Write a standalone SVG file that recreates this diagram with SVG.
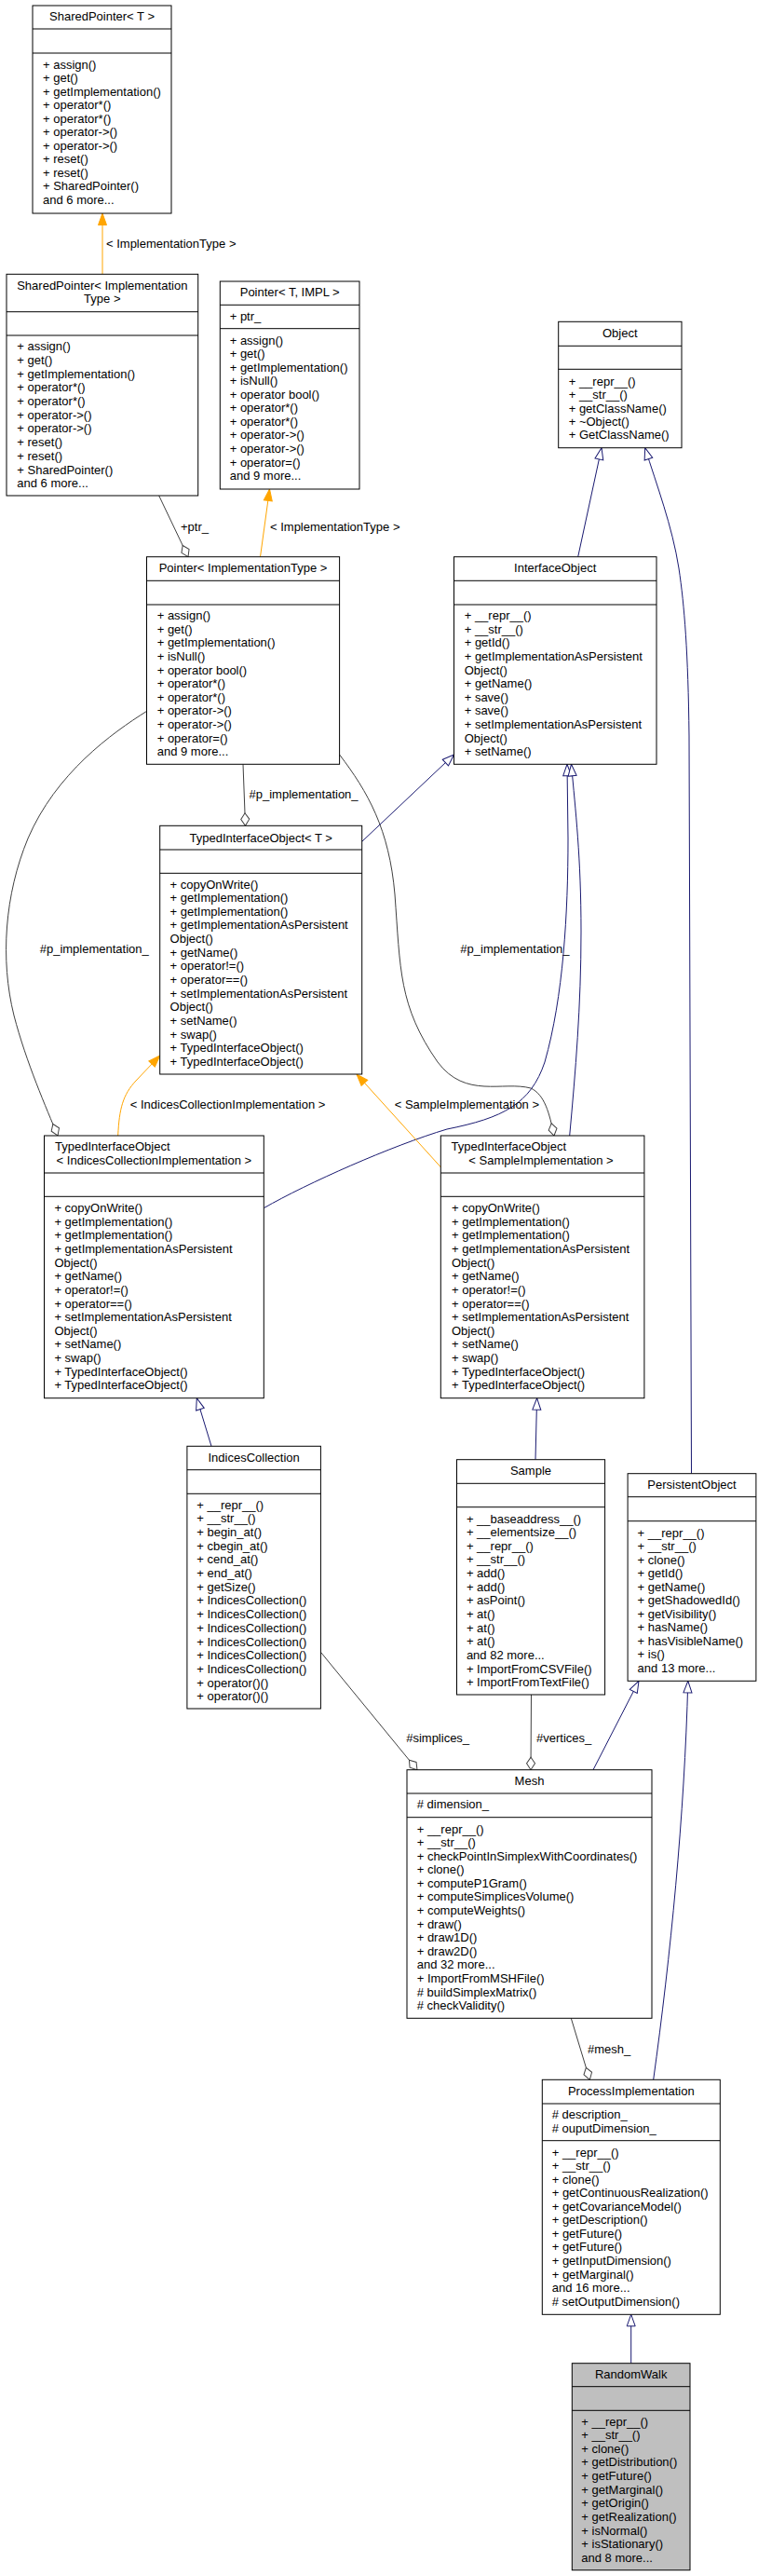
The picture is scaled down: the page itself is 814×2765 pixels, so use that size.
<svg xmlns="http://www.w3.org/2000/svg" width="814" height="2765" viewBox="0 0 814 2765">
<style>
.bg{fill:#fff}
.box{fill:#fff;stroke:#000;stroke-width:1}
.rw{fill:#bfbfbf}
.sep{stroke:#000;stroke-width:1}
text{font-family:"Liberation Sans",Arial,Helvetica,sans-serif;font-size:13px;fill:#000}
.c{text-anchor:middle}
.inh{stroke:#191970;fill:none;stroke-width:1}
.tpl{stroke:#ffa500;fill:none;stroke-width:1}
.agg{stroke:#404040;fill:none;stroke-width:1}
</style>
<defs>
<marker id="mInh" markerWidth="16" markerHeight="12" refX="13" refY="5" orient="auto" markerUnits="userSpaceOnUse" overflow="visible"><path d="M0.5,0.5 L13,5 L0.5,9.5 z" fill="#fff" stroke="#191970"/></marker>
<marker id="mTpl" markerWidth="16" markerHeight="12" refX="13" refY="5" orient="auto" markerUnits="userSpaceOnUse" overflow="visible"><path d="M0.5,0.5 L13,5 L0.5,9.5 z" fill="#ffa500" stroke="#ffa500"/></marker>
<marker id="mAgg" markerWidth="16" markerHeight="12" refX="14" refY="5" orient="auto" markerUnits="userSpaceOnUse" overflow="visible"><path d="M0.5,5 L7,0.5 L14,5 L7,9.5 z" fill="#fff" stroke="#404040"/></marker>
</defs>
<rect class="bg" x="0" y="0" width="814" height="2765"/>

<g id="connectors">
<path class="tpl" d="M110,294.3 L110,229" marker-end="url(#mTpl)"/>
<text x="114" y="265.5">&lt; ImplementationType &gt;</text>
<path class="tpl" d="M279.5,597.7 L289.5,525" marker-end="url(#mTpl)"/>
<text x="290" y="569.5">&lt; ImplementationType &gt;</text>
<path class="agg" d="M170.7,532 L202,597.7" marker-end="url(#mAgg)"/>
<text x="194" y="569.5">+ptr_</text>
<path class="agg" d="M261,820.3 L263.5,886.3" marker-end="url(#mAgg)"/>
<text x="267.5" y="857">#p_implementation_</text>
<path class="agg" d="M157.7,763.3 C120,787 60,830 30,900 C5,960 0,1030 15,1090 C28,1140 50,1190 62,1219" marker-end="url(#mAgg)"/>
<text x="42.7" y="1022.8">#p_implementation_</text>
<path class="agg" d="M364.6,810 C395,850 418,890 424,960 C430,1040 428,1080 470,1140 C500,1180 540,1160 570,1168 C585,1175 590,1195 595,1219" marker-end="url(#mAgg)"/>
<text x="494.3" y="1022.8">#p_implementation_</text>
<path class="inh" d="M388.7,903.3 L487.5,810" marker-end="url(#mInh)"/>
<path class="inh" d="M283.3,1296.7 C330,1270 420,1230 480,1212 C540,1200 570,1185 585,1140 C605,1070 610,980 610,900 L609,820.3" marker-end="url(#mInh)"/>
<path class="inh" d="M611.7,1219 C618,1150 624,1080 624,1000 C624,920 618,870 613.5,820.3" marker-end="url(#mInh)"/>
<path class="inh" d="M620.7,597.7 L646,480.7" marker-end="url(#mInh)"/>
<path class="inh" d="M742.5,1581.7 L740,790 C739,700 735,650 729,610 C722,565 705,520 692.7,480.7" marker-end="url(#mInh)"/>
<path class="tpl" d="M126.7,1219 C128,1190 132,1175 146,1160 L171.7,1133" marker-end="url(#mTpl)"/>
<text x="139.8" y="1190">&lt; IndicesCollectionImplementation &gt;</text>
<path class="tpl" d="M473.8,1253.3 L383,1153" marker-end="url(#mTpl)"/>
<text x="423.7" y="1190">&lt; SampleImplementation &gt;</text>
<path class="inh" d="M227,1552.3 L211.3,1500.7" marker-end="url(#mInh)"/>
<path class="inh" d="M575,1566.7 L576.6,1500.7" marker-end="url(#mInh)"/>
<path class="agg" d="M344.4,1773.3 L448,1899.7" marker-end="url(#mAgg)"/>
<text x="436.2" y="1870">#simplices_</text>
<path class="agg" d="M570.5,1819 L570,1899.7" marker-end="url(#mAgg)"/>
<text x="576" y="1870">#vertices_</text>
<path class="inh" d="M637,1899.7 L686,1804.3" marker-end="url(#mInh)"/>
<path class="inh" d="M701.7,2232.3 C720,2100 735,1950 738.8,1804.3" marker-end="url(#mInh)"/>
<path class="agg" d="M613.3,2166.3 L633.3,2232.3" marker-end="url(#mAgg)"/>
<text x="631" y="2203.5">#mesh_</text>
<path class="inh" d="M677.7,2536.7 L677.7,2484.3" marker-end="url(#mInh)"/>
</g>

<g id="n_sp_t">
<rect class="box" x="35" y="6" width="149" height="223"/>
<line class="sep" x1="35" y1="31" x2="184" y2="31"/>
<line class="sep" x1="35" y1="57" x2="184" y2="57"/>
<text class="c" x="109.5" y="22">SharedPointer&lt; T &gt;</text>
<text x="46" y="73.5"><tspan x="46" dy="0">+ assign()</tspan><tspan x="46" dy="14.53">+ get()</tspan><tspan x="46" dy="14.53">+ getImplementation()</tspan><tspan x="46" dy="14.53">+ operator*()</tspan><tspan x="46" dy="14.53">+ operator*()</tspan><tspan x="46" dy="14.53">+ operator-&gt;()</tspan><tspan x="46" dy="14.53">+ operator-&gt;()</tspan><tspan x="46" dy="14.53">+ reset()</tspan><tspan x="46" dy="14.53">+ reset()</tspan><tspan x="46" dy="14.53">+ SharedPointer()</tspan><tspan x="46" dy="14.53">and 6 more...</tspan></text>
</g>

<g id="n_sp_it">
<rect class="box" x="7" y="294.3" width="205.7" height="237.7"/>
<line class="sep" x1="7" y1="334.7" x2="212.7" y2="334.7"/>
<line class="sep" x1="7" y1="360" x2="212.7" y2="360"/>
<text class="c" x="109.8" y="310.8">SharedPointer&lt; Implementation</text>
<text class="c" x="109.8" y="325.2">Type &gt;</text>
<text x="18.3" y="376.2"><tspan x="18.3" dy="0">+ assign()</tspan><tspan x="18.3" dy="14.7">+ get()</tspan><tspan x="18.3" dy="14.7">+ getImplementation()</tspan><tspan x="18.3" dy="14.7">+ operator*()</tspan><tspan x="18.3" dy="14.7">+ operator*()</tspan><tspan x="18.3" dy="14.7">+ operator-&gt;()</tspan><tspan x="18.3" dy="14.7">+ operator-&gt;()</tspan><tspan x="18.3" dy="14.7">+ reset()</tspan><tspan x="18.3" dy="14.7">+ reset()</tspan><tspan x="18.3" dy="14.7">+ SharedPointer()</tspan><tspan x="18.3" dy="14.7">and 6 more...</tspan></text>
</g>

<g id="n_ptr_t">
<rect class="box" x="236.3" y="302" width="149.7" height="223"/>
<line class="sep" x1="236.3" y1="327.3" x2="386" y2="327.3"/>
<line class="sep" x1="236.3" y1="352.7" x2="386" y2="352.7"/>
<text class="c" x="311.2" y="318.2">Pointer&lt; T, IMPL &gt;</text>
<text x="246.7" y="343.8">+ ptr_</text>
<text x="246.7" y="369.5"><tspan x="246.7" dy="0">+ assign()</tspan><tspan x="246.7" dy="14.57">+ get()</tspan><tspan x="246.7" dy="14.57">+ getImplementation()</tspan><tspan x="246.7" dy="14.57">+ isNull()</tspan><tspan x="246.7" dy="14.57">+ operator bool()</tspan><tspan x="246.7" dy="14.57">+ operator*()</tspan><tspan x="246.7" dy="14.57">+ operator*()</tspan><tspan x="246.7" dy="14.57">+ operator-&gt;()</tspan><tspan x="246.7" dy="14.57">+ operator-&gt;()</tspan><tspan x="246.7" dy="14.57">+ operator=()</tspan><tspan x="246.7" dy="14.57">and 9 more...</tspan></text>
</g>

<g id="n_obj">
<rect class="box" x="599.7" y="345.3" width="132.3" height="135.4"/>
<line class="sep" x1="599.7" y1="371.3" x2="732" y2="371.3"/>
<line class="sep" x1="599.7" y1="396.3" x2="732" y2="396.3"/>
<text class="c" x="665.8" y="361.8">Object</text>
<text x="610.7" y="413.8"><tspan x="610.7" dy="0">+ __repr__()</tspan><tspan x="610.7" dy="14.35">+ __str__()</tspan><tspan x="610.7" dy="14.35">+ getClassName()</tspan><tspan x="610.7" dy="14.35">+ ~Object()</tspan><tspan x="610.7" dy="14.35">+ GetClassName()</tspan></text>
</g>

<g id="n_ptr_it">
<rect class="box" x="157.5" y="597.7" width="207.1" height="222.6"/>
<line class="sep" x1="157.5" y1="623.3" x2="364.6" y2="623.3"/>
<line class="sep" x1="157.5" y1="649" x2="364.6" y2="649"/>
<text class="c" x="261" y="614.2">Pointer&lt; ImplementationType &gt;</text>
<text x="168.7" y="665.2"><tspan x="168.7" dy="0">+ assign()</tspan><tspan x="168.7" dy="14.6">+ get()</tspan><tspan x="168.7" dy="14.6">+ getImplementation()</tspan><tspan x="168.7" dy="14.6">+ isNull()</tspan><tspan x="168.7" dy="14.6">+ operator bool()</tspan><tspan x="168.7" dy="14.6">+ operator*()</tspan><tspan x="168.7" dy="14.6">+ operator*()</tspan><tspan x="168.7" dy="14.6">+ operator-&gt;()</tspan><tspan x="168.7" dy="14.6">+ operator-&gt;()</tspan><tspan x="168.7" dy="14.6">+ operator=()</tspan><tspan x="168.7" dy="14.6">and 9 more...</tspan></text>
</g>

<g id="n_io">
<rect class="box" x="487.5" y="597.7" width="217.5" height="222.6"/>
<line class="sep" x1="487.5" y1="623.3" x2="705" y2="623.3"/>
<line class="sep" x1="487.5" y1="649" x2="705" y2="649"/>
<text class="c" x="596.2" y="614.2">InterfaceObject</text>
<text x="498.7" y="665.2"><tspan x="498.7" dy="0">+ __repr__()</tspan><tspan x="498.7" dy="14.6">+ __str__()</tspan><tspan x="498.7" dy="14.6">+ getId()</tspan><tspan x="498.7" dy="14.6">+ getImplementationAsPersistent</tspan><tspan x="498.7" dy="14.6">Object()</tspan><tspan x="498.7" dy="14.6">+ getName()</tspan><tspan x="498.7" dy="14.6">+ save()</tspan><tspan x="498.7" dy="14.6">+ save()</tspan><tspan x="498.7" dy="14.6">+ setImplementationAsPersistent</tspan><tspan x="498.7" dy="14.6">Object()</tspan><tspan x="498.7" dy="14.6">+ setName()</tspan></text>
</g>

<g id="n_tio_t">
<rect class="box" x="171.7" y="886.3" width="217" height="266.7"/>
<line class="sep" x1="171.7" y1="912" x2="388.7" y2="912"/>
<line class="sep" x1="171.7" y1="937.3" x2="388.7" y2="937.3"/>
<text class="c" x="280.2" y="903.5">TypedInterfaceObject&lt; T &gt;</text>
<text x="182.6" y="953.5"><tspan x="182.6" dy="0">+ copyOnWrite()</tspan><tspan x="182.6" dy="14.64">+ getImplementation()</tspan><tspan x="182.6" dy="14.64">+ getImplementation()</tspan><tspan x="182.6" dy="14.64">+ getImplementationAsPersistent</tspan><tspan x="182.6" dy="14.64">Object()</tspan><tspan x="182.6" dy="14.64">+ getName()</tspan><tspan x="182.6" dy="14.64">+ operator!=()</tspan><tspan x="182.6" dy="14.64">+ operator==()</tspan><tspan x="182.6" dy="14.64">+ setImplementationAsPersistent</tspan><tspan x="182.6" dy="14.64">Object()</tspan><tspan x="182.6" dy="14.64">+ setName()</tspan><tspan x="182.6" dy="14.64">+ swap()</tspan><tspan x="182.6" dy="14.64">+ TypedInterfaceObject()</tspan><tspan x="182.6" dy="14.64">+ TypedInterfaceObject()</tspan></text>
</g>

<g id="n_tio_ic">
<rect class="box" x="47.5" y="1219" width="235.8" height="281.7"/>
<line class="sep" x1="47.5" y1="1259" x2="283.3" y2="1259"/>
<line class="sep" x1="47.5" y1="1284.3" x2="283.3" y2="1284.3"/>
<text x="59" y="1235.2">TypedInterfaceObject</text>
<text class="c" x="165.4" y="1250.2">&lt; IndicesCollectionImplementation &gt;</text>
<text x="58.4" y="1301.2"><tspan x="58.4" dy="0">+ copyOnWrite()</tspan><tspan x="58.4" dy="14.62">+ getImplementation()</tspan><tspan x="58.4" dy="14.62">+ getImplementation()</tspan><tspan x="58.4" dy="14.62">+ getImplementationAsPersistent</tspan><tspan x="58.4" dy="14.62">Object()</tspan><tspan x="58.4" dy="14.62">+ getName()</tspan><tspan x="58.4" dy="14.62">+ operator!=()</tspan><tspan x="58.4" dy="14.62">+ operator==()</tspan><tspan x="58.4" dy="14.62">+ setImplementationAsPersistent</tspan><tspan x="58.4" dy="14.62">Object()</tspan><tspan x="58.4" dy="14.62">+ setName()</tspan><tspan x="58.4" dy="14.62">+ swap()</tspan><tspan x="58.4" dy="14.62">+ TypedInterfaceObject()</tspan><tspan x="58.4" dy="14.62">+ TypedInterfaceObject()</tspan></text>
</g>

<g id="n_tio_s">
<rect class="box" x="473.3" y="1219" width="218.6" height="281.7"/>
<line class="sep" x1="473.3" y1="1259" x2="691.9" y2="1259"/>
<line class="sep" x1="473.3" y1="1284.3" x2="691.9" y2="1284.3"/>
<text x="484.5" y="1235.2">TypedInterfaceObject</text>
<text class="c" x="581" y="1250.2">&lt; SampleImplementation &gt;</text>
<text x="485" y="1301.2"><tspan x="485" dy="0">+ copyOnWrite()</tspan><tspan x="485" dy="14.62">+ getImplementation()</tspan><tspan x="485" dy="14.62">+ getImplementation()</tspan><tspan x="485" dy="14.62">+ getImplementationAsPersistent</tspan><tspan x="485" dy="14.62">Object()</tspan><tspan x="485" dy="14.62">+ getName()</tspan><tspan x="485" dy="14.62">+ operator!=()</tspan><tspan x="485" dy="14.62">+ operator==()</tspan><tspan x="485" dy="14.62">+ setImplementationAsPersistent</tspan><tspan x="485" dy="14.62">Object()</tspan><tspan x="485" dy="14.62">+ setName()</tspan><tspan x="485" dy="14.62">+ swap()</tspan><tspan x="485" dy="14.62">+ TypedInterfaceObject()</tspan><tspan x="485" dy="14.62">+ TypedInterfaceObject()</tspan></text>
</g>

<g id="n_ic">
<rect class="box" x="200.9" y="1552.3" width="143.5" height="281.7"/>
<line class="sep" x1="200.9" y1="1577.7" x2="344.4" y2="1577.7"/>
<line class="sep" x1="200.9" y1="1603.3" x2="344.4" y2="1603.3"/>
<text class="c" x="272.6" y="1568.8">IndicesCollection</text>
<text x="211.3" y="1619.5"><tspan x="211.3" dy="0">+ __repr__()</tspan><tspan x="211.3" dy="14.71">+ __str__()</tspan><tspan x="211.3" dy="14.71">+ begin_at()</tspan><tspan x="211.3" dy="14.71">+ cbegin_at()</tspan><tspan x="211.3" dy="14.71">+ cend_at()</tspan><tspan x="211.3" dy="14.71">+ end_at()</tspan><tspan x="211.3" dy="14.71">+ getSize()</tspan><tspan x="211.3" dy="14.71">+ IndicesCollection()</tspan><tspan x="211.3" dy="14.71">+ IndicesCollection()</tspan><tspan x="211.3" dy="14.71">+ IndicesCollection()</tspan><tspan x="211.3" dy="14.71">+ IndicesCollection()</tspan><tspan x="211.3" dy="14.71">+ IndicesCollection()</tspan><tspan x="211.3" dy="14.71">+ IndicesCollection()</tspan><tspan x="211.3" dy="14.71">+ operator()()</tspan><tspan x="211.3" dy="14.71">+ operator()()</tspan></text>
</g>

<g id="n_sample">
<rect class="box" x="490.5" y="1566.7" width="159.1" height="252.3"/>
<line class="sep" x1="490.5" y1="1592.3" x2="649.6" y2="1592.3"/>
<line class="sep" x1="490.5" y1="1617.7" x2="649.6" y2="1617.7"/>
<text class="c" x="570" y="1582.8">Sample</text>
<text x="500.9" y="1634.5"><tspan x="500.9" dy="0">+ __baseaddress__()</tspan><tspan x="500.9" dy="14.64">+ __elementsize__()</tspan><tspan x="500.9" dy="14.64">+ __repr__()</tspan><tspan x="500.9" dy="14.64">+ __str__()</tspan><tspan x="500.9" dy="14.64">+ add()</tspan><tspan x="500.9" dy="14.64">+ add()</tspan><tspan x="500.9" dy="14.64">+ asPoint()</tspan><tspan x="500.9" dy="14.64">+ at()</tspan><tspan x="500.9" dy="14.64">+ at()</tspan><tspan x="500.9" dy="14.64">+ at()</tspan><tspan x="500.9" dy="14.64">and 82 more...</tspan><tspan x="500.9" dy="14.64">+ ImportFromCSVFile()</tspan><tspan x="500.9" dy="14.64">+ ImportFromTextFile()</tspan></text>
</g>

<g id="n_po">
<rect class="box" x="674.1" y="1581.7" width="137.8" height="222.6"/>
<line class="sep" x1="674.1" y1="1606.7" x2="811.9" y2="1606.7"/>
<line class="sep" x1="674.1" y1="1632.7" x2="811.9" y2="1632.7"/>
<text class="c" x="743" y="1597.8">PersistentObject</text>
<text x="684.6" y="1649.5"><tspan x="684.6" dy="0">+ __repr__()</tspan><tspan x="684.6" dy="14.5">+ __str__()</tspan><tspan x="684.6" dy="14.5">+ clone()</tspan><tspan x="684.6" dy="14.5">+ getId()</tspan><tspan x="684.6" dy="14.5">+ getName()</tspan><tspan x="684.6" dy="14.5">+ getShadowedId()</tspan><tspan x="684.6" dy="14.5">+ getVisibility()</tspan><tspan x="684.6" dy="14.5">+ hasName()</tspan><tspan x="684.6" dy="14.5">+ hasVisibleName()</tspan><tspan x="684.6" dy="14.5">+ is()</tspan><tspan x="684.6" dy="14.5">and 13 more...</tspan></text>
</g>

<g id="n_mesh">
<rect class="box" x="437" y="1899.7" width="263" height="266.6"/>
<line class="sep" x1="437" y1="1925" x2="700" y2="1925"/>
<line class="sep" x1="437" y1="1950.7" x2="700" y2="1950.7"/>
<text class="c" x="568.5" y="1915.8">Mesh</text>
<text x="447.7" y="1941.2"># dimension_</text>
<text x="447.7" y="1967.5"><tspan x="447.7" dy="0">+ __repr__()</tspan><tspan x="447.7" dy="14.59">+ __str__()</tspan><tspan x="447.7" dy="14.59">+ checkPointInSimplexWithCoordinates()</tspan><tspan x="447.7" dy="14.59">+ clone()</tspan><tspan x="447.7" dy="14.59">+ computeP1Gram()</tspan><tspan x="447.7" dy="14.59">+ computeSimplicesVolume()</tspan><tspan x="447.7" dy="14.59">+ computeWeights()</tspan><tspan x="447.7" dy="14.59">+ draw()</tspan><tspan x="447.7" dy="14.59">+ draw1D()</tspan><tspan x="447.7" dy="14.59">+ draw2D()</tspan><tspan x="447.7" dy="14.59">and 32 more...</tspan><tspan x="447.7" dy="14.59">+ ImportFromMSHFile()</tspan><tspan x="447.7" dy="14.59"># buildSimplexMatrix()</tspan><tspan x="447.7" dy="14.59"># checkValidity()</tspan></text>
</g>

<g id="n_pi">
<rect class="box" x="582.3" y="2232.3" width="191" height="252"/>
<line class="sep" x1="582.3" y1="2258" x2="773.3" y2="2258"/>
<line class="sep" x1="582.3" y1="2297.7" x2="773.3" y2="2297.7"/>
<text class="c" x="677.8" y="2248.8">ProcessImplementation</text>
<text x="592.7" y="2273.8"># description_</text>
<text x="592.7" y="2288.8"># ouputDimension_</text>
<text x="592.7" y="2314.5"><tspan x="592.7" dy="0">+ __repr__()</tspan><tspan x="592.7" dy="14.57">+ __str__()</tspan><tspan x="592.7" dy="14.57">+ clone()</tspan><tspan x="592.7" dy="14.57">+ getContinuousRealization()</tspan><tspan x="592.7" dy="14.57">+ getCovarianceModel()</tspan><tspan x="592.7" dy="14.57">+ getDescription()</tspan><tspan x="592.7" dy="14.57">+ getFuture()</tspan><tspan x="592.7" dy="14.57">+ getFuture()</tspan><tspan x="592.7" dy="14.57">+ getInputDimension()</tspan><tspan x="592.7" dy="14.57">+ getMarginal()</tspan><tspan x="592.7" dy="14.57">and 16 more...</tspan><tspan x="592.7" dy="14.57"># setOutputDimension()</tspan></text>
</g>

<g id="n_rw">
<rect class="box rw" x="614.3" y="2536.7" width="126.7" height="222"/>
<line class="sep" x1="614.3" y1="2561.7" x2="741" y2="2561.7"/>
<line class="sep" x1="614.3" y1="2587.3" x2="741" y2="2587.3"/>
<text class="c" x="677.7" y="2553.2">RandomWalk</text>
<text x="624.3" y="2603.5"><tspan x="624.3" dy="0">+ __repr__()</tspan><tspan x="624.3" dy="14.63">+ __str__()</tspan><tspan x="624.3" dy="14.63">+ clone()</tspan><tspan x="624.3" dy="14.63">+ getDistribution()</tspan><tspan x="624.3" dy="14.63">+ getFuture()</tspan><tspan x="624.3" dy="14.63">+ getMarginal()</tspan><tspan x="624.3" dy="14.63">+ getOrigin()</tspan><tspan x="624.3" dy="14.63">+ getRealization()</tspan><tspan x="624.3" dy="14.63">+ isNormal()</tspan><tspan x="624.3" dy="14.63">+ isStationary()</tspan><tspan x="624.3" dy="14.63">and 8 more...</tspan></text>
</g>
</svg>
